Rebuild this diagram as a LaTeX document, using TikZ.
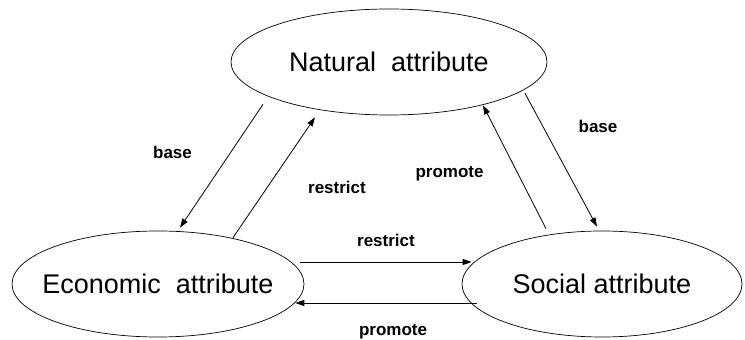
\documentclass[tikz,border=0pt]{standalone}
\usepackage{fontspec}
\setmainfont{Liberation Sans}
\usetikzlibrary{arrows.meta,shapes.geometric}

\begin{document}
\begin{tikzpicture}[x=1pt,y=1pt,>={Triangle[length=9pt,width=6pt]},line width=0.8pt,
  attr/.style={draw,ellipse,line width=0.7pt,font=\fontsize{27}{30}\selectfont,inner ysep=0pt,inner xsep=-20pt},
  lbl/.style={font=\fontsize{17}{19}\selectfont\bfseries}]
\useasboundingbox (0,0) rectangle (745,340);
\node[attr,minimum width=316pt,minimum height=106pt] (nat) at (389,278) {Natural\ \ attribute};
\node[attr,minimum width=292pt,minimum height=106pt] (eco) at (158,56) {Economic\ \ attribute};
\node[attr,minimum width=280pt,minimum height=106pt] (soc) at (602,56) {Social attribute};
% natural <-> economic
\draw[->] ([shift={(-126,11)}]nat.south) -- ([shift={(22,3)}]eco.north)
  node[midway,lbl,xshift=-49pt,yshift=14pt]{base};
\draw[->] ([shift={(75,-7)}]eco.north) -- ([shift={(-74,-2)}]nat.south)
  node[midway,lbl,xshift=63pt,yshift=-10pt]{restrict};
% natural <-> social
\draw[->] ([shift={(-56,2)}]soc.north) -- ([shift={(94,10)}]nat.south)
  node[midway,lbl,xshift=-65pt,yshift=-7pt]{promote};
\draw[->] ([shift={(136,22)}]nat.south) -- ([shift={(-5,4)}]soc.north)
  node[midway,lbl,xshift=37pt,yshift=34pt]{base};
% economic <-> social
\draw[->] ([shift={(-4,22)}]eco.east) -- ([shift={(10,22)}]soc.west)
  node[midway,lbl,yshift=22pt]{restrict};
\draw[->] ([shift={(15,-19)}]soc.west) -- ([shift={(-9,-19)}]eco.east)
  node[midway,lbl,xshift=7pt,yshift=-29pt]{promote};
\end{tikzpicture}
\end{document}
